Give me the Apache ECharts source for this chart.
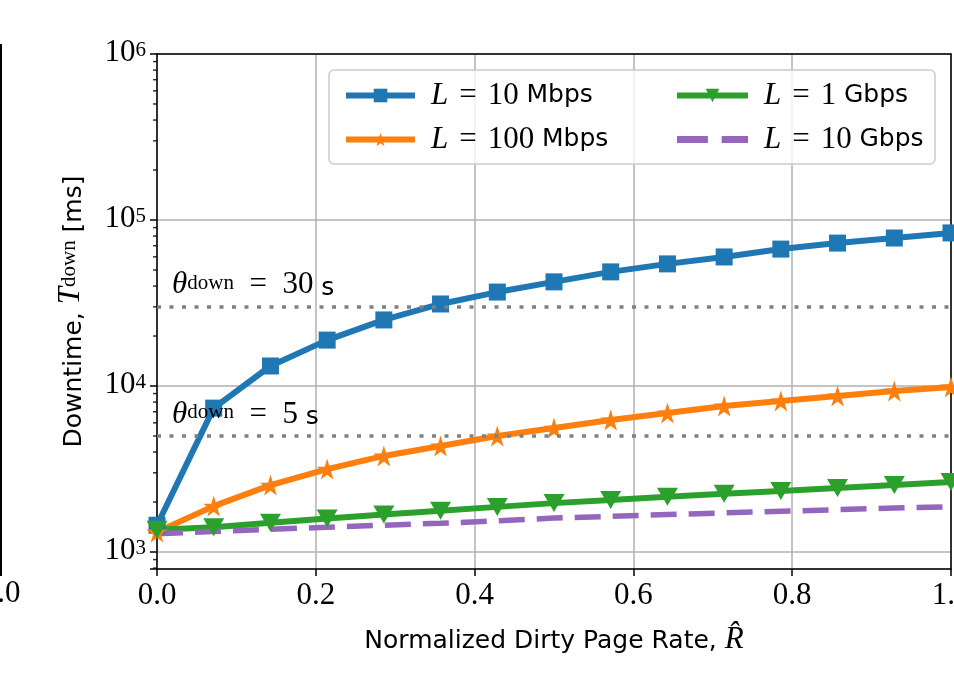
<!DOCTYPE html>
<html>
<head>
<meta charset="utf-8">
<script src="https://cdn.jsdelivr.net/npm/echarts@6/dist/echarts.min.js"></script>
<style>
  html, body { margin: 0; padding: 0; background: #fff; }
  #main { width: 954px; height: 681px; }
</style>
</head>
<body>
<div id="main"></div>
<script>
// normalized dirty page rate (x)
var rate = [0, 0.0714, 0.1429, 0.2143, 0.2857, 0.3571, 0.4286, 0.5, 0.5714, 0.6429, 0.7143, 0.7857, 0.8571, 0.9286, 1.0];
// downtime in ms
var link10M = [1450, 7360, 13200, 18900, 25000, 31200, 36800, 42400, 48700, 54400, 59900, 66800, 72600, 77900, 83600];
var link100M = [1320, 1890, 2530, 3160, 3790, 4350, 5000, 5580, 6240, 6880, 7580, 8130, 8710, 9330, 9860];
var link1G = [1360, 1410, 1500, 1590, 1680, 1770, 1870, 1970, 2060, 2150, 2240, 2330, 2430, 2530, 2640];
var link10G = [1290, 1330, 1370, 1410, 1450, 1490, 1540, 1600, 1640, 1680, 1720, 1760, 1800, 1840, 1870];
var seriesNames = ['L = 10 Mbps', 'L = 100 Mbps', 'L = 1 Gbps', 'L = 10 Gbps'];
// thresholds (ms) and their labels
var thresholds = [30000, 5000];
var thresholdLabels = ['30', '5'];
// log minor tick values
var minorTicks = [800, 900, 2000, 3000, 4000, 5000, 6000, 7000, 8000, 9000,
  20000, 30000, 40000, 50000, 60000, 70000, 80000, 90000,
  200000, 300000, 400000, 500000, 600000, 700000, 800000, 900000];

var SERIF = 'Liberation Serif';
var SANS = 'DejaVu Sans';
var STAR = 'path://M50,0 L61,35 L98,35 L68,57 L79,91 L50,70 L21,91 L32,57 L2,35 L39,35 Z';
var TRI_DOWN = 'path://M0,0 L100,0 L50,87 Z';
var DASHES = 'path://M0,0 H27 V6 H0 Z M39,0 H62 V6 H39 Z';

function pairs(ys) {
  return ys.map(function (y, i) { return [rate[i], y]; });
}

var legendRich = {
  pad: { width: 11 },
  gap: { width: 11 },
  i: { fontFamily: SERIF, fontStyle: 'italic', fontSize: 31, lineHeight: 30, color: '#000' },
  m: { fontFamily: SERIF, fontSize: 31, lineHeight: 30, color: '#000' },
  s: { fontFamily: SANS, fontSize: 25, lineHeight: 30, color: '#000' }
};
function legendFmt(name) {
  var p = name.split(' ');
  return '{pad|}{i|L}{gap|}{m|=}{gap|}{m|' + p[2] + ' }{s|' + p[3] + '}';
}

var supRich = {
  b: { fontFamily: SERIF, fontSize: 31, lineHeight: 28, verticalAlign: 'bottom', color: '#000' },
  t: { fontFamily: SERIF, fontStyle: 'italic', fontSize: 31, lineHeight: 28, verticalAlign: 'bottom', color: '#000' },
  sup: { fontFamily: SERIF, fontSize: 21, lineHeight: 20, verticalAlign: 'top', padding: [0, 0, 14, 0], color: '#000' },
  s: { fontFamily: SANS, fontSize: 25, lineHeight: 28, verticalAlign: 'bottom', color: '#000' }
};

var chart = echarts.init(document.getElementById('main'));

var option = {
  animation: false,
  backgroundColor: '#fff',
  grid: { left: 157, right: 3, top: 54, bottom: 112, outerBoundsMode: 'none', containLabel: false },
  xAxis: [{
    type: 'value', min: 0, max: 1, interval: 0.2,
    name: 'Normalized Dirty Page Rate, {t|R\u0302}',
    nameLocation: 'middle', nameGap: 58,
    nameTextStyle: { fontFamily: SANS, fontSize: 25, color: '#000', rich: supRich },
    axisLine: { onZero: false, lineStyle: { color: '#000', width: 1.5 } },
    axisTick: { show: true, length: 7, lineStyle: { color: '#000', width: 1.5 } },
    axisLabel: { margin: 11, fontFamily: SERIF, fontSize: 31, color: '#000',
      formatter: function (v) { return v.toFixed(1); } },
    splitLine: { show: true, lineStyle: { color: '#b0b0b0', width: 1.5 } }
  }, {
    type: 'value', min: 0, max: 1, position: 'top',
    axisLine: { show: true, onZero: false, lineStyle: { color: '#000', width: 1.5 } },
    axisTick: { show: false }, axisLabel: { show: false }, splitLine: { show: false }
  }],
  yAxis: [{
    type: 'log', logBase: 10, min: 790, max: 1000000,
    name: '{s|Downtime, }{t|T}{sup|down}{s| [ms]}',
    nameLocation: 'middle', nameGap: 63,
    nameTextStyle: { rich: supRich },
    axisLine: { show: true, onZero: false, lineStyle: { color: '#000', width: 1.5 } },
    axisTick: { show: true, length: 7, lineStyle: { color: '#000', width: 1.5 } },
    axisLabel: {
      margin: 11,
      rich: supRich,
      formatter: function (v) {
        var e = Math.log10(v);
        if (Math.abs(e - Math.round(e)) > 1e-6) return '';
        return '{b|10}{sup|' + Math.round(e) + '}';
      }
    },
    splitLine: { show: true, lineStyle: { color: '#b0b0b0', width: 1.5 } }
  }, {
    type: 'value', min: 0, max: 1, position: 'right',
    axisLine: { show: true, onZero: false, lineStyle: { color: '#000', width: 1.5 } },
    axisTick: { show: false }, axisLabel: { show: false }, splitLine: { show: false }
  }],
  legend: [{
    orient: 'vertical', left: 338, top: 75, itemGap: 13,
    itemWidth: 69, itemHeight: 17,
    lineStyle: { width: 6 },
    data: [seriesNames[0], seriesNames[1]],
    formatter: legendFmt,
    textStyle: { rich: legendRich }
  }, {
    orient: 'vertical', left: 669, top: 75, itemGap: 13,
    itemWidth: 71, itemHeight: 17,
    lineStyle: { width: 6 },
    data: [seriesNames[2], { name: seriesNames[3], icon: DASHES }],
    formatter: legendFmt,
    textStyle: { rich: legendRich }
  }],
  graphic: [
    { type: 'rect', z: 3, shape: { x: 329, y: 70, width: 606, height: 94, r: 5 },
      style: { fill: 'rgba(255,255,255,0.8)', stroke: '#cccccc', lineWidth: 1.5 } },
    // edge of the neighbouring panel
    { type: 'line', shape: { x1: 1, y1: 44, x2: 1, y2: 576 },
      style: { stroke: '#000', lineWidth: 2 } },
    { type: 'text', x: 1, y: 594,
      style: { text: '1.0', align: 'center', verticalAlign: 'middle', font: '31px "Liberation Serif"', fill: '#000' } }
  ],
  series: [
    {
      name: 'thresholds', type: 'line', data: [], silent: true,
      markLine: {
        silent: true, symbol: 'none',
        lineStyle: { color: '#808080', width: 3.5, type: [4, 8.5], cap: 'butt' },
        label: {
          show: true, position: 'insideStartTop', distance: [15, 6],
          rich: supRich,
          formatter: function (p) {
            var idx = thresholds.indexOf(p.value);
            return '{t|\u03b8}{sup|down}{b|  =  ' + thresholdLabels[idx] + ' }{s|s}';
          }
        },
        data: thresholds.map(function (t) { return { yAxis: t }; })
      }
    },
    {
      name: seriesNames[0], type: 'line', data: pairs(link10M),
      color: '#1f77b4', symbol: 'rect', symbolSize: 17,
      lineStyle: { width: 6 }, itemStyle: { color: '#1f77b4' }
    },
    {
      name: seriesNames[1], type: 'line', data: pairs(link100M),
      color: '#ff7f0e', symbol: STAR, symbolSize: 21,
      lineStyle: { width: 6 }, itemStyle: { color: '#ff7f0e' }
    },
    {
      name: seriesNames[2], type: 'line', data: pairs(link1G),
      color: '#2ca02c', symbol: TRI_DOWN, symbolSize: [21, 18],
      lineStyle: { width: 6 }, itemStyle: { color: '#2ca02c' }
    },
    {
      name: seriesNames[3], type: 'line', data: pairs(link10G),
      color: '#9467bd', symbol: 'none', showSymbol: false,
      lineStyle: { width: 5.5, type: [26, 12], cap: 'butt' }, itemStyle: { color: '#9467bd' }
    },
    {
      name: 'minor', type: 'scatter', silent: true, clip: false, z: 10,
      data: minorTicks.map(function (v) { return [0, v]; }),
      symbol: 'rect', symbolSize: [4, 1.5], symbolOffset: [-2, 0],
      itemStyle: { color: '#000' }
    }
  ]
};

chart.setOption(option);
</script>
</body>
</html>
